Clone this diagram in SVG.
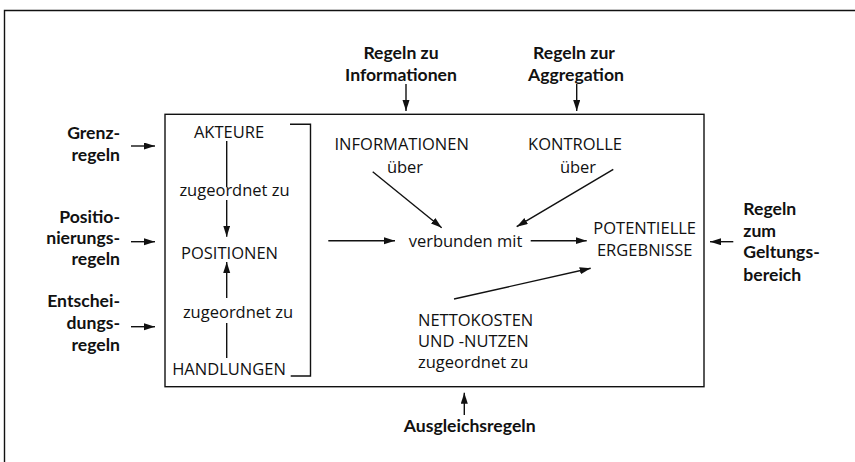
<svg xmlns="http://www.w3.org/2000/svg" width="855" height="462" viewBox="0 0 855 462">
<style>
.r{font-family:"Open Sans","DejaVu Sans",sans-serif;font-size:16.5px;fill:#111}
.b{font-family:Lato,"Open Sans",sans-serif;font-weight:bold;font-size:17.6px;fill:#111}
.m{text-anchor:middle}
.e{text-anchor:end}
.ln{stroke:#111;stroke-width:1.4;fill:none}
.ar{stroke:#111;stroke-width:1.4;fill:none;marker-end:url(#h)}
</style>
<defs>
<marker id="h" markerUnits="userSpaceOnUse" markerWidth="12" markerHeight="8" refX="11" refY="3.5" orient="auto">
<path d="M0,0 L11,3.5 L0,7 z" fill="#111"/>
</marker>
</defs>
<rect width="855" height="462" fill="#fff"/>
<g id="frame">
<path class="ln" d="M4.5,470 V10.5 H860" stroke-width="2"/>
</g>
<g id="system">
<rect x="165" y="114.3" width="539" height="272.4" class="ln"/>
</g>
<g id="bracket">
<path class="ln" d="M290,124.3 H310.5 V376 H290.7"/>
</g>
<g id="akteure"><text class="r m" x="229" y="137.7">AKTEURE</text></g>
<g id="zug1"><text class="r m" x="234.5" y="195.7">zugeordnet zu</text></g>
<g id="positionen"><text class="r m" x="229.5" y="259.3">POSITIONEN</text></g>
<g id="zug2"><text class="r m" x="238" y="318.3">zugeordnet zu</text></g>
<g id="handlungen"><text class="r m" x="229" y="375">HANDLUNGEN</text></g>
<g id="informationen"><text class="r m" x="401.7" y="150">INFORMATIONEN</text><text class="r m" x="405" y="172.7">über</text></g>
<g id="kontrolle"><text class="r m" x="575" y="150">KONTROLLE</text><text class="r m" x="578" y="172.7">über</text></g>
<g id="verbunden"><text class="r m" x="465.5" y="246.7">verbunden mit</text></g>
<g id="ergebnisse"><text class="r m" x="644.7" y="233.8">POTENTIELLE</text><text class="r m" x="644.7" y="256">ERGEBNISSE</text></g>
<g id="nettokosten"><text class="r" x="418" y="325.7">NETTOKOSTEN</text><text class="r" x="418" y="346.7">UND -NUTZEN</text><text class="r" x="418" y="368.3">zugeordnet zu</text></g>
<g id="grenzregeln"><text class="b e" x="120" y="139.3">Grenz-</text><text class="b e" x="120" y="160.5">regeln</text></g>
<g id="positionierungsregeln"><text class="b e" x="120" y="222.7">Positio-</text><text class="b e" x="120" y="243.7">nierungs-</text><text class="b e" x="120" y="265">regeln</text></g>
<g id="entscheidungsregeln"><text class="b e" x="120" y="307.3">Entschei-</text><text class="b e" x="120" y="328.8">dungs-</text><text class="b e" x="120" y="350.5">regeln</text></g>
<g id="informationsregeln"><text class="b m" x="401" y="59.3">Regeln zu</text><text class="b m" x="401" y="80.7">Informationen</text></g>
<g id="aggregationsregeln"><text class="b m" x="574" y="59.3">Regeln zur</text><text class="b m" x="576" y="80.7">Aggregation</text></g>
<g id="geltungsbereichsregeln"><text class="b" x="743.3" y="215">Regeln</text><text class="b" x="743.3" y="236.7">zum</text><text class="b" x="743.3" y="258.3">Geltungs-</text><text class="b" x="743.3" y="281">bereich</text></g>
<g id="ausgleichsregeln"><text class="b m" x="469.7" y="431.7">Ausgleichsregeln</text></g>
<g id="connectors">
<path class="ln" d="M226.7,141 V187.3"/>
<path class="ar" d="M226.7,200 V236.7"/>
<path class="ar" d="M226.7,298 V262"/>
<path class="ln" d="M226.7,323 V358"/>
<path class="ar" d="M131,146 H155"/>
<path class="ar" d="M131,241.7 H155"/>
<path class="ar" d="M131,326.7 H155"/>
<path class="ar" d="M406,84 V111"/>
<path class="ar" d="M576.7,84 V111"/>
<path class="ar" d="M733.3,241.7 H710"/>
<path class="ar" d="M464.3,415 V392.7"/>
<path class="ar" d="M328.3,240.7 H395"/>
<path class="ar" d="M530.7,240.7 H586.7"/>
<path class="ar" d="M372.7,171.7 L441.7,227.7"/>
<path class="ar" d="M613.3,169.3 L516.7,226.7"/>
<path class="ar" d="M454,299 L590.7,268.3"/>
</g>
</svg>
